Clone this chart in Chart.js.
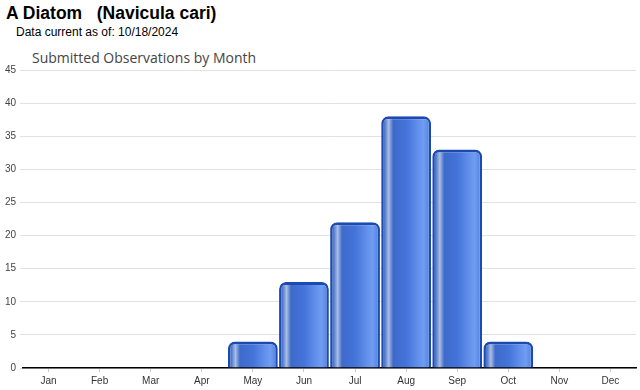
<!DOCTYPE html>
<html>
<head>
<meta charset="utf-8">
<script src="https://cdn.jsdelivr.net/npm/chart.js@4.4.1/dist/chart.umd.min.js"></script>
<style>
    body {
        margin: 0;
        width: 640px;
        height: 390px;
        background: #fff;
        font-family: "Liberation Sans", Arial, sans-serif;
        position: relative;
        overflow: hidden;
    }
    #title {
        position: absolute;
        left: 6px;
        top: 3px;
        font-size: 17.5px;
        font-weight: bold;
        color: #000;
        white-space: pre;
    }
    #sub {
        position: absolute;
        left: 16px;
        top: 25px;
        font-size: 12px;
        color: #000;
    }
    #chartTitle {
        position: absolute;
        left: 32px;
        top: 48px;
        font-size: 14px;
        color: #444;
        font-family: "Open Sans", "DejaVu Sans", sans-serif;
    }
    #wrap {
        position: absolute;
        left: 0;
        top: 60px;
        width: 640px;
        height: 330px;
    }
</style>
</head>
<body>
<div id="title">A Diatom   (Navicula cari)</div>
<div id="sub">Data current as of: 10/18/2024</div>
<div id="chartTitle">Submitted Observations by Month</div>
<div id="wrap"><canvas id="chart"></canvas></div>
<script>
const months = ["Jan", "Feb", "Mar", "Apr", "May", "Jun",
    "Jul", "Aug", "Sep", "Oct", "Nov", "Dec"];

const observations = [0, 0, 0, 0, 4, 13, 22, 38, 33, 4, 0, 0];

const yMax = 45;
const yStep = 5;

const catPct = 0.975;

// horizontal "cylinder" shading, worked out from the x scale per bar
function barShade(context) {
    const chart = context.chart;
    const xScale = chart.scales.x;
    if (!chart.chartArea || !xScale) {
        return "#3f6ed6";
    }
    const centre = xScale.getPixelForValue(context.dataIndex);
    const half = (xScale.width / months.length) * catPct / 2;
    const g = chart.ctx.createLinearGradient(centre - half, 0, centre + half, 0);
    g.addColorStop(0, "#1f4fb5");
    g.addColorStop(0.08, "#5a80d0");
    g.addColorStop(0.15, "#a9bee2");
    g.addColorStop(0.24, "#3e6aca");
    g.addColorStop(0.5, "#4473da");
    g.addColorStop(0.85, "#709df2");
    g.addColorStop(1, "#4c7ddc");
    return g;
}

new Chart(document.getElementById("chart"), {
    type: "bar",
    data: {
        labels: months,
        datasets: [
            {
                data: observations,
                backgroundColor: barShade,
                borderColor: "#1a4ab2",
                borderWidth: { top: 3, left: 2.5, right: 2.5, bottom: 0 },
                borderRadius: { topLeft: 7, topRight: 7 },
                borderSkipped: "bottom",
                categoryPercentage: catPct,
                barPercentage: 1
            }
        ]
    },
    options: {
        responsive: true,
        maintainAspectRatio: false,
        animation: false,
        layout: {
            padding: { top: 4, right: 4, left: 0, bottom: 0 }
        },
        plugins: {
            legend: { display: false },
            tooltip: { enabled: false }
        },
        scales: {
            x: {
                grid: {
                    display: true,
                    drawOnChartArea: false,
                    offset: false,
                    tickLength: 4,
                    color: "#cccccc"
                },
                border: {
                    display: true,
                    color: "#000",
                    width: 1.5
                },
                ticks: {
                    color: "#333",
                    font: { family: "Liberation Sans", size: 10 },
                    padding: 3,
                    maxRotation: 0
                }
            },
            y: {
                min: 0,
                max: yMax,
                afterFit(scale) {
                    scale.width = 23;
                },
                grid: {
                    color: "#e2e2e2",
                    tickLength: 3
                },
                border: { display: false },
                ticks: {
                    stepSize: yStep,
                    color: "#444",
                    font: { family: "Liberation Sans", size: 10 },
                    padding: 4
                }
            }
        }
    }
});
</script>
</body>
</html>
